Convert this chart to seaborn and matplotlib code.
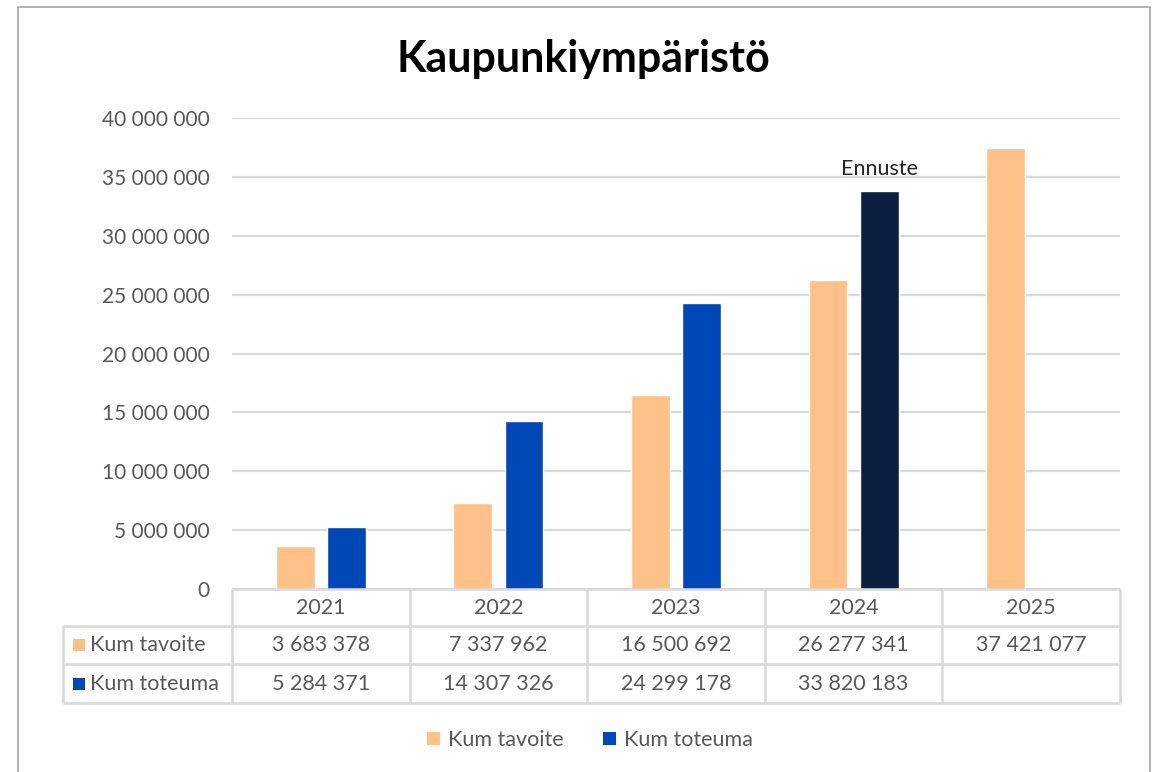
import numpy as np
import pandas as pd
import matplotlib
matplotlib.use("Agg")
import matplotlib.pyplot as plt
import matplotlib.patches as mpatches
import matplotlib.transforms as mtrans
import seaborn as sns

years = ["2021", "2022", "2023", "2024", "2025"]
kum_tavoite = [3683378, 7337962, 16500692, 26277341, 37421077]
kum_toteuma = [5284371, 14307326, 24299178, 33820183, None]
series_names = ["Kum tavoite", "Kum toteuma"]
yticks = [0, 5000000, 10000000, 15000000, 20000000, 25000000, 30000000, 35000000, 40000000]
forecast_year = "2024"
forecast_label = "Ennuste"
title = "Kaupunkiympäristö"

c_orange = "#FFC187"
c_blue = "#0047B8"
c_navy = "#0B1F40"
c_text = "#595959"
c_grid = "#D9D9D9"

rows = []
for y, a, b in zip(years, kum_tavoite, kum_toteuma):
    rows.append({"year": y, "series": series_names[0], "value": a})
    if b is not None:
        rows.append({"year": y, "series": series_names[1], "value": b})
df = pd.DataFrame(rows)

sns.set_style("white")
plt.rcParams["font.family"] = ["Lato", "DejaVu Sans"]

W, H = 1163, 772
fig = plt.figure(figsize=(W / 100, H / 100), dpi=100)
L, R, T, B = 232, 1120, 118, 589
ax = fig.add_axes([L / W, 1 - B / H, (R - L) / W, (B - T) / H])

sns.barplot(data=df, x="year", y="value", hue="series", order=years,
            hue_order=series_names, palette=[c_orange, c_blue],
            width=0.576, gap=0.24, dodge=True, ax=ax, legend=False,
            errorbar=None, saturation=1)

# recolor forecast bar
fi = years.index(forecast_year)
for p in ax.patches:
    cx = p.get_x() + p.get_width() / 2
    if abs(cx - fi) < 0.5 and p.get_facecolor()[2] > 0.5 and p.get_facecolor()[0] < 0.3:
        p.set_facecolor(c_navy)
        ax.text(cx, kum_toteuma[fi] + 1000000, forecast_label, ha="center", va="bottom",
                fontsize=15.5, color="#262626")

ax.set_xlim(-0.5, len(years) - 0.5)
ax.set_ylim(0, 40000000)
ax.set_yticks(yticks)
ax.set_yticklabels([f"{v:,}".replace(",", " ") for v in yticks], fontsize=15, color=c_text)
ax.tick_params(axis="y", length=0, pad=16)
ax.set_xticks([])
ax.set_xlabel("")
ax.set_ylabel("")
for s in ax.spines.values():
    s.set_visible(False)
ax.yaxis.grid(True, color=c_grid, linewidth=1.6)
ax.set_axisbelow(True)

# data table
trans = mtrans.blended_transform_factory(ax.transData, ax.transAxes)
ph = B - T
row_edges_px = [589, 626, 664, 703]
ye = [-(r - B) / ph for r in row_edges_px]
xl = -0.5 - (L - 63) / ((R - L) / len(years))
lkw = dict(color=c_grid, linewidth=1.8, clip_on=False, solid_capstyle="butt")
ax.plot([-0.5, len(years) - 0.5], [ye[0], ye[0]], transform=trans, **lkw)
for yv in ye[1:]:
    ax.plot([xl, len(years) - 0.5], [yv, yv], transform=trans, **lkw)
for i in range(len(years) + 1):
    ax.plot([i - 0.5, i - 0.5], [ye[0], ye[-1]], transform=trans, **lkw)
ax.plot([xl, xl], [ye[1], ye[-1]], transform=trans, **lkw)

fs = 15.5
for i, y in enumerate(years):
    ax.text(i, (ye[0] + ye[1]) / 2, y, transform=trans, ha="center", va="center",
            fontsize=fs, color=c_text)
    ax.text(i, (ye[1] + ye[2]) / 2, f"{kum_tavoite[i]:,}".replace(",", " "), transform=trans,
            ha="center", va="center", fontsize=fs, color=c_text)
    if kum_toteuma[i] is not None:
        ax.text(i, (ye[2] + ye[3]) / 2, f"{kum_toteuma[i]:,}".replace(",", " "), transform=trans,
                ha="center", va="center", fontsize=fs, color=c_text)

for k, (name, col) in enumerate(zip(series_names, [c_orange, c_blue])):
    ymid_px = (row_edges_px[k + 1] + row_edges_px[k + 2]) / 2
    fig.patches.append(mpatches.Rectangle((73 / W, 1 - (ymid_px + 6) / H), 12 / W, 12 / H,
                                          transform=fig.transFigure, facecolor=col, edgecolor="none"))
    fig.text(90 / W, 1 - ymid_px / H, name, ha="left", va="center", fontsize=fs, color=c_text)

# legend
handles = [mpatches.Patch(facecolor=c, edgecolor="none") for c in [c_orange, c_blue]]
fig.legend(handles, series_names, loc="center", bbox_to_anchor=(590 / W, 1 - 740 / H),
           ncol=2, frameon=False, fontsize=15.5, labelcolor=c_text,
           handlelength=0.6, handleheight=0.6, handletextpad=0.4, columnspacing=1.8)

# title
fig.text(583 / W, 1 - 59 / H, title, ha="center", va="center", fontsize=31,
         fontweight="bold", color="black")

# outer frame
fig.patches.append(mpatches.Rectangle((18 / W, -0.05), (1150 - 18) / W, 1 - 7 / H + 0.05,
                                      transform=fig.transFigure, facecolor="none",
                                      edgecolor="#A6A6A6", linewidth=1.2))

fig.savefig("out.png", dpi=100)
